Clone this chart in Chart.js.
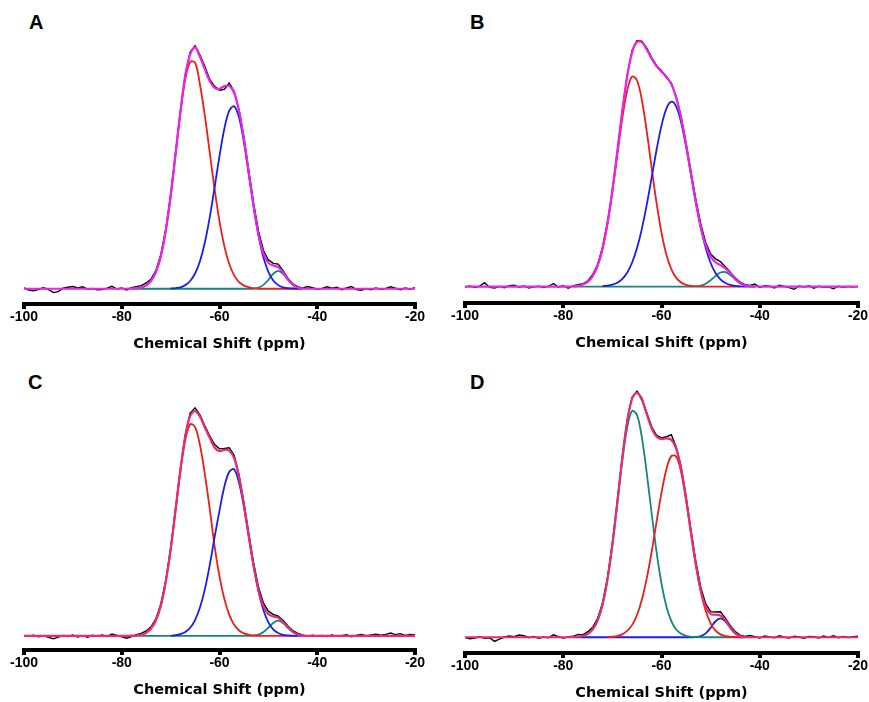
<!DOCTYPE html>
<html>
<head>
<meta charset="utf-8">
<script src="https://cdn.jsdelivr.net/npm/chart.js@4.4.1/dist/chart.umd.min.js"></script>
<style>
  body { margin: 0; background: #fff; width: 869px; height: 702px; position: relative; overflow: hidden; }
  canvas { position: absolute; }
  .tag { position: absolute; font: bold 20px "Liberation Sans", Arial, sans-serif; line-height: 20px; color: #000; }
</style>
</head>
<body>
<div class="tag" style="left:29px;top:12px">A</div>
<div class="tag" style="left:470px;top:12px">B</div>
<div class="tag" style="left:28px;top:372px">C</div>
<div class="tag" style="left:470px;top:372px">D</div>
<canvas id="chartA" width="435" height="351" style="left:0;top:0"></canvas>
<canvas id="chartB" width="434" height="351" style="left:435px;top:0"></canvas>
<canvas id="chartC" width="435" height="351" style="left:0;top:351px"></canvas>
<canvas id="chartD" width="434" height="351" style="left:435px;top:351px"></canvas>
<script>
// chemical shift grid, ppm (one point per ppm)
const shift = [
  -100, -99, -98, -97, -96, -95, -94, -93, -92, -91,
  -90, -89, -88, -87, -86, -85, -84, -83, -82, -81,
  -80, -79, -78, -77, -76, -75, -74, -73, -72, -71,
  -70, -69, -68, -67, -66, -65, -64, -63, -62, -61,
  -60, -59, -58, -57, -56, -55, -54, -53, -52, -51,
  -50, -49, -48, -47, -46, -45, -44, -43, -42, -41,
  -40, -39, -38, -37, -36, -35, -34, -33, -32, -31,
  -30, -29, -28, -27, -26, -25, -24, -23, -22, -21,
  -20
];
const shiftTicks = [-100, -80, -60, -40, -20];

// ---- A ----
const dataA = [
  0.3, -0.5, -0.8, -0.2, 0.4, -0.3, -1.6, -1.2, 0.2, 0.6,
  0.9, 0.3, 0.8, -0.2, 0.1, -0.4, -0.3, 0.2, 1.0, -0.1,
  0.3, -0.5, 0.4, 0.9, 1.3, 2.4, 4.0, 7.6, 14.2, 24.5,
  38.8, 55.9, 73.0, 88.6, 97.8, 100.4, 96.5, 91.8, 86.5, 83.6,
  82.0, 82.4, 85.0, 81.5, 73.9, 62.4, 48.6, 35.1, 23.6, 15.8,
  11.9, 10.5, 10.2, 7.5, 4.3, 2.0, 0.9, 0.2, 0.9, 0.4,
  -0.2, 0.1, 0.8, 0.2, 0.6, -0.4, 0.3, 0.9, -0.3, -0.6,
  0.1, -0.4, 0.3, -0.2, 0.1, 0.8, 0.2, -0.4, 0.3, -0.2,
  0.5
];
const fitA = [
  0, 0, 0, 0, 0, 0, 0, 0, 0, 0,
  0, 0, 0, 0, 0, 0, 0, 0, 0, 0,
  0, 0, 0.1, 0.2, 0.5, 1.4, 3.3, 7.0, 13.5, 23.9,
  38.2, 55.6, 73.3, 88.1, 96.9, 99.7, 95.8, 90.7, 85.8, 83.0,
  82.6, 83.7, 83.8, 80.9, 73.4, 61.8, 47.8, 33.9, 22.3, 14.5,
  10.7, 9.6, 8.9, 6.8, 3.9, 1.7, 0.5, 0.1, 0, 0,
  0, 0, 0, 0, 0, 0, 0, 0, 0, 0,
  0, 0, 0, 0, 0, 0, 0, 0, 0, 0,
  0
];
const redA = [
  null, null, null, null, null, null, null, null, null, null,
  null, null, null, null, null, null, null, null, null, null,
  null, null, null, null, 0.5, 1.4, 3.3, 7.0, 13.5, 23.9,
  38.1, 55.3, 72.7, 86.6, 93.7, 93.4, 84.4, 71.6, 56.3, 41.1,
  27.8, 17.5, 10.2, 5.5, 2.7, 1.3, 0.6, 0.2, 0, 0,
  0, 0, 0, 0, 0, 0, 0, null, null, null,
  null, null, null, null, null, null, null, null, null, null,
  null, null, null, null, null, null, null, null, null, null,
  null
];
const blueA = [
  null, null, null, null, null, null, null, null, null, null,
  null, null, null, null, null, null, null, null, null, null,
  null, null, null, null, null, null, null, null, null, null,
  0.1, 0.3, 0.6, 1.5, 3.2, 6.3, 11.4, 19.1, 29.5, 41.9,
  54.8, 66.2, 73.6, 75.4, 70.7, 60.5, 47.2, 33.6, 21.8, 12.9,
  7.0, 3.4, 1.5, 0.6, 0.2, 0.1, 0, 0, null, null,
  null, null, null, null, null, null, null, null, null, null,
  null, null, null, null, null, null, null, null, null, null,
  null
];
const greenA = [
  null, null, null, null, null, null, null, null, null, null,
  null, null, null, null, null, null, null, null, null, null,
  null, null, 0, 0, 0, 0, 0, 0, 0, 0,
  0, 0, 0, 0, 0, 0, 0, 0, 0, 0,
  0, 0, 0, 0, 0, 0, 0, 0.1, 0.5, 1.6,
  3.7, 6.2, 7.4, 6.2, 3.7, 1.6, 0.5, null, null, null,
  null, null, null, null, null, null, null, null, null, null,
  null, null, null, null, null, null, null, null, null, null,
  null
];

// ---- B ----
const dataB = [
  -0.2, 0.3, -0.4, 0.2, 1.6, -0.3, -0.6, 0.1, -0.5, 0.4,
  0.6, -0.2, 0.3, -0.6, -0.1, 0.2, -0.4, 0.1, 1.3, -0.2,
  0.4, -0.6, 0.3, 0.8, 1.2, 2.4, 5.0, 9.1, 16.2, 26.4,
  39.2, 55.0, 71.6, 86.5, 96.8, 100.9, 100.6, 97.8, 93.9, 90.6,
  88.5, 85.7, 83.4, 77.9, 69.5, 58.8, 47.2, 35.6, 25.6, 18.1,
  13.4, 11.4, 10.3, 8.2, 5.9, 3.6, 1.9, 0.8, 0.5, 1.1,
  -0.3, 0.4, 0.2, -0.5, 0.6, 0.1, -0.4, -1.1, 0.3, -0.2,
  0.4, -0.6, 0.2, -0.3, -0.1, -0.9, 0.2, -0.3, 0.1, -0.2,
  0.1
];
const fitB = [
  0, 0, 0, 0, 0, 0, 0, 0, 0, 0,
  0, 0, 0, 0, 0, 0, 0, 0, 0, 0,
  0, 0, 0.1, 0.3, 0.9, 2.0, 4.4, 8.6, 15.7, 26.0,
  39.6, 55.5, 71.8, 86.0, 95.9, 100.3, 100.2, 97.2, 93.4, 90.3,
  88.1, 86.1, 83.0, 77.4, 69.0, 58.2, 46.3, 34.6, 24.5, 17.0,
  12.3, 10.0, 8.8, 7.5, 5.5, 3.3, 1.5, 0.5, 0.2, 0.1,
  0, 0, 0, 0, 0, 0, 0, 0, 0, 0,
  0, 0, 0, 0, 0, 0, 0, 0, 0, 0,
  0
];
const redB = [
  null, null, null, null, null, null, null, null, null, null,
  null, null, null, null, null, null, null, null, null, null,
  null, null, null, null, 0.9, 2.0, 4.4, 8.6, 15.5, 25.6,
  38.8, 53.9, 68.7, 80.3, 86.1, 84.6, 76.5, 63.6, 48.6, 34.2,
  22.1, 13.1, 7.2, 3.6, 1.7, 0.7, 0.3, 0.1, 0, 0,
  0, 0, 0, 0, 0, 0, 0, null, null, null,
  null, null, null, null, null, null, null, null, null, null,
  null, null, null, null, null, null, null, null, null, null,
  null
];
const blueB = [
  null, null, null, null, null, null, null, null, null, null,
  null, null, null, null, null, null, null, null, null, null,
  null, null, null, null, null, null, null, null, 0.2, 0.4,
  0.8, 1.6, 3.1, 5.7, 9.8, 15.7, 23.7, 33.6, 44.8, 56.1,
  66.0, 73.0, 75.8, 73.8, 67.3, 57.5, 46.0, 34.4, 24.1, 15.8,
  9.7, 5.6, 3.0, 1.5, 0.7, 0.3, 0.1, 0, 0, 0,
  null, null, null, null, null, null, null, null, null, null,
  null, null, null, null, null, null, null, null, null, null,
  null
];
const greenB = [
  null, null, null, null, null, null, null, null, null, null,
  null, null, null, null, null, null, null, null, null, null,
  null, null, 0, 0, 0, 0, 0, 0, 0, 0,
  0, 0, 0, 0, 0, 0, 0, 0, 0, 0,
  0, 0, 0, 0, 0, 0, 0, 0.1, 0.4, 1.2,
  2.6, 4.4, 5.8, 6.0, 4.8, 3.0, 1.4, 0.5, 0.2, 0.1,
  null, null, null, null, null, null, null, null, null, null,
  null, null, null, null, null, null, null, null, null, null,
  null
];

// ---- C ----
const dataC = [
  0.2, -0.1, 0.3, -0.4, 0.1, -0.6, -1.3, -0.5, 0.2, -0.3,
  0.4, -0.5, 0.1, -0.6, 0.3, -0.2, 0.4, -0.3, 0.8, 0.2,
  -0.4, -1.0, -0.3, 0.6, 1.1, 2.2, 4.0, 7.6, 14.1, 24.3,
  38.6, 55.9, 73.6, 88.7, 98.2, 100.5, 97.4, 92.6, 88.1, 84.3,
  82.4, 82.6, 82.9, 79.6, 70.9, 58.6, 44.8, 31.9, 21.3, 14.4,
  10.9, 9.5, 8.7, 6.9, 4.4, 2.3, 1.1, 0.4, -0.2, 0.3,
  -0.1, 0.2, -0.3, 0.4, -0.2, 0.1, 0.5, -0.4, 0.2, 0.6,
  0.1, 0.4, 0.8, 0.3, 0.7, 1.3, 0.6, 1.0, 0.2, 0.7,
  0.4
];
const fitC = [
  0, 0, 0, 0, 0, 0, 0, 0, 0, 0,
  0, 0, 0, 0, 0, 0, 0, 0, 0, 0,
  0, 0, 0.1, 0.2, 0.5, 1.4, 3.3, 7.0, 13.4, 23.8,
  38.0, 55.4, 73.2, 88.0, 96.9, 99.0, 96.6, 91.8, 87.3, 83.0,
  81.4, 82.0, 81.6, 78.3, 69.9, 57.8, 44.0, 30.7, 20.0, 13.0,
  9.6, 8.6, 8.0, 6.2, 3.8, 1.8, 0.6, 0.1, 0, 0,
  0, 0, 0, 0, 0, 0, 0, 0, 0, 0,
  0, 0, 0, 0, 0, 0, 0, 0, 0, 0,
  0
];
const redC = [
  null, null, null, null, null, null, null, null, null, null,
  null, null, null, null, null, null, null, null, null, null,
  null, null, null, null, 0.5, 1.4, 3.3, 7.0, 13.4, 23.8,
  37.9, 55.1, 72.4, 86.3, 93.3, 92.0, 84.1, 71.3, 56.1, 39.5,
  26.2, 16.2, 9.3, 4.9, 2.4, 1.1, 0.5, 0.2, 0, 0,
  0, 0, 0, 0, 0, 0, 0, null, null, null,
  null, null, null, null, null, null, null, null, null, null,
  null, null, null, null, null, null, null, null, null, null,
  null
];
const blueC = [
  null, null, null, null, null, null, null, null, null, null,
  null, null, null, null, null, null, null, null, null, null,
  null, null, null, null, null, null, null, null, null, null,
  0.1, 0.3, 0.8, 1.7, 3.6, 7.0, 12.5, 20.5, 31.2, 43.5,
  55.2, 65.8, 72.3, 73.4, 67.5, 56.7, 43.5, 30.4, 19.4, 11.3,
  6.0, 2.9, 1.3, 0.5, 0.2, 0.1, 0, 0, null, null,
  null, null, null, null, null, null, null, null, null, null,
  null, null, null, null, null, null, null, null, null, null,
  null
];
const greenC = [
  null, null, null, null, null, null, null, null, null, null,
  null, null, null, null, null, null, null, null, null, null,
  null, null, 0, 0, 0, 0, 0, 0, 0, 0,
  0, 0, 0, 0, 0, 0, 0, 0, 0, 0,
  0, 0, 0, 0, 0, 0, 0, 0.1, 0.6, 1.7,
  3.6, 5.7, 6.7, 5.7, 3.6, 1.7, 0.6, null, null, null,
  null, null, null, null, null, null, null, null, null, null,
  null, null, null, null, null, null, null, null, null, null,
  null
];

// ---- D ----
const dataD = [
  -0.1, -0.6, -0.3, 0.2, -0.4, -0.2, -1.7, -0.8, 0.1, 0.5,
  0.2, 0.9, 0.6, -0.2, 0.3, -0.4, 0.1, -0.2, 1.0, 0.2,
  -0.3, 0.1, 0.4, 1.2, 1.0, 2.3, 4.1, 7.8, 14.2, 24.6,
  38.9, 56.2, 74.2, 89.6, 99.1, 101.6, 98.8, 92.7, 86.9, 83.4,
  82.3, 82.8, 83.6, 78.6, 70.3, 58.2, 44.1, 31.2, 20.6, 13.8,
  10.6, 10.4, 10.5, 7.9, 4.8, 2.3, 0.9, 0.3, 0.7, 0.2,
  -0.3, 0.5, 0.1, -0.2, 0.6, 0.0, -0.3, 0.4, 0.1, -0.4,
  0.3, 0.2, -0.3, 0.5, -0.1, 0.6, -0.2, 0.3, -0.1, 0.2,
  0.4
];
const fitD = [
  0, 0, 0, 0, 0, 0, 0, 0, 0, 0,
  0, 0, 0, 0, 0, 0, 0, 0, 0, 0,
  0, 0, 0.1, 0.2, 0.5, 1.4, 3.3, 7.0, 13.5, 23.9,
  38.2, 55.6, 73.7, 88.9, 98.4, 100.9, 98.0, 92.1, 86.3, 82.8,
  81.8, 82.1, 81.5, 77.8, 69.5, 57.3, 43.2, 30.0, 19.3, 12.5,
  9.6, 9.3, 9.0, 7.1, 4.1, 1.7, 0.5, 0.1, 0, 0,
  0, 0, 0, 0, 0, 0, 0, 0, 0, 0,
  0, 0, 0, 0, 0, 0, 0, 0, 0, 0,
  0
];
const tealD = [
  null, null, null, null, null, null, null, null, null, null,
  null, null, null, null, null, null, null, null, null, null,
  null, null, null, null, 0.5, 1.4, 3.3, 7.0, 13.5, 23.8,
  38.0, 55.1, 72.5, 86.3, 93.4, 91.8, 82.5, 67.8, 51.0, 35.1,
  22.1, 12.7, 6.7, 3.2, 1.4, 0.6, 0.2, 0.1, 0, 0,
  0, 0, 0, 0, 0, 0, 0, 0, null, null,
  null, null, null, null, null, null, null, null, null, null,
  null, null, null, null, null, null, null, null, null, null,
  null
];
const redD = [
  null, null, null, null, null, null, null, null, null, null,
  null, null, null, null, null, null, null, null, null, null,
  null, null, null, null, null, null, null, null, null, 0.1,
  0.2, 0.5, 1.2, 2.6, 5.0, 9.1, 15.5, 24.3, 35.3, 47.7,
  59.7, 69.4, 74.8, 74.6, 68.1, 56.7, 43.0, 29.8, 18.8, 10.9,
  5.7, 2.7, 1.2, 0.5, 0.2, 0.1, 0, 0, null, null,
  null, null, null, null, null, null, null, null, null, null,
  null, null, null, null, null, null, null, null, null, null,
  null
];
const blueD = [
  null, null, null, null, null, null, null, null, null, null,
  null, null, null, null, null, null, null, null, null, null,
  null, null, 0, 0, 0, 0, 0, 0, 0, 0,
  0, 0, 0, 0, 0, 0, 0, 0, 0, 0,
  0, 0, 0, 0, 0, 0, 0, 0.1, 0.5, 1.6,
  3.9, 6.6, 7.8, 6.6, 3.9, 1.6, 0.5, null, null, null,
  null, null, null, null, null, null, null, null, null, null,
  null, null, null, null, null, null, null, null, null, null,
  null
];

const RED = '#f01c1c';
const BLUE = '#1c1cf0';
const TEAL = '#14867c';
const MAGENTA = '#ec22ec';
const ROSE = '#ea2a74';

Chart.defaults.font.family = '"Liberation Sans", Arial, sans-serif';
Chart.defaults.color = '#000';

// first dataset ends up on top, the raw spectrum goes underneath
function drawPanel(id, spectrum, fit, fitColor, parts, yMin, yMax, pad) {
  const sets = [{ data: fit, borderColor: fitColor, borderWidth: 2.2, tension: 0.35 }];
  parts.forEach(p => sets.push({ data: p[0], borderColor: p[1], borderWidth: 1.8, tension: 0.35 }));
  sets.push({ data: spectrum, borderColor: '#000', borderWidth: 1.4, tension: 0 });

  new Chart(document.getElementById(id), {
    type: 'line',
    data: { labels: shift, datasets: sets },
    options: {
      responsive: false,
      animation: false,
      events: [],
      layout: { padding: pad },
      elements: { point: { radius: 0 } },
      plugins: { legend: { display: false }, tooltip: { enabled: false } },
      scales: {
        x: {
          type: 'linear',
          min: shiftTicks[0],
          max: shiftTicks[shiftTicks.length - 1],
          afterFit: s => { s.height = 47; },
          afterBuildTicks: s => { s.ticks = shiftTicks.map(v => ({ value: v })); },
          border: { display: true, width: 4, color: '#000' },
          grid: { drawOnChartArea: false, drawTicks: true, tickLength: 5, lineWidth: 4, color: '#000' },
          ticks: { padding: 0, color: '#000', font: { size: 14, weight: 'bold' } },
          title: {
            display: true,
            text: 'Chemical Shift (ppm)',
            color: '#000',
            padding: { top: 0, bottom: -2 },
            font: { family: '"DejaVu Sans", sans-serif', size: 14.5, weight: 'bold' }
          }
        },
        y: { display: false, min: yMin, max: yMax }
      }
    }
  });
}

drawPanel('chartA', dataA, fitA, MAGENTA, [[blueA, BLUE], [redA, RED], [greenA, TEAL]],
  -6.3, 106.9, { left: 24, right: 20, top: 30, bottom: 0 });
drawPanel('chartB', dataB, fitB, MAGENTA, [[blueB, BLUE], [redB, RED], [greenB, TEAL]],
  -6.7, 105.2, { left: 30, right: 11, top: 30, bottom: 1 });
drawPanel('chartC', dataC, fitC, ROSE, [[blueC, BLUE], [redC, RED], [greenC, TEAL]],
  -6.2, 112.3, { left: 24, right: 20, top: 30, bottom: 5 });
drawPanel('chartD', dataD, fitD, ROSE, [[redD, RED], [tealD, TEAL], [blueD, BLUE]],
  -6.5, 105.8, { left: 30, right: 11, top: 30, bottom: 2 });
</script>
</body>
</html>
